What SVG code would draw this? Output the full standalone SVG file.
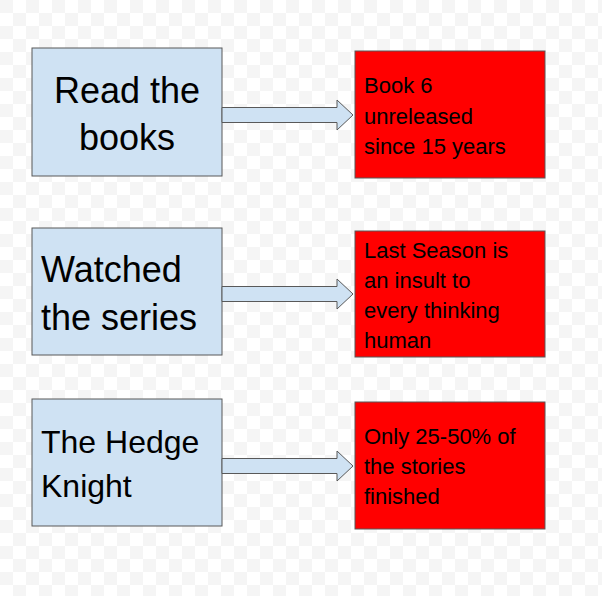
<svg xmlns="http://www.w3.org/2000/svg" width="602" height="596" viewBox="0 0 602 596">
<defs>
<pattern id="chk" width="26" height="26" patternUnits="userSpaceOnUse">
<rect width="26" height="26" fill="#ffffff"/>
<rect width="13" height="13" fill="#f5f5f5"/>
<rect x="13" y="13" width="13" height="13" fill="#f5f5f5"/>
</pattern>
</defs>
<style>
.l{fill:#cfe2f3;stroke:#595959;stroke-width:1}
.r{fill:#ff0000;stroke:#595959;stroke-width:1}
.a{fill:#cfe2f3;stroke:#595959;stroke-width:1}
text{font-family:Arial,"Liberation Sans",sans-serif;fill:#000}
.big{font-size:36px}
.mid{font-size:32px}
.sm{font-size:22px}
</style>
<rect width="602" height="596" fill="url(#chk)"/>
<g id="n1"><rect class="l" x="32" y="48" width="190" height="128"/>
<text class="big" x="127" y="103" text-anchor="middle">Read the</text>
<text class="big" x="127" y="150" text-anchor="middle">books</text></g>
<g id="n2"><rect class="l" x="32" y="228" width="190" height="127"/>
<text class="big" x="41" y="282">Watched</text>
<text class="big" x="41" y="330">the series</text></g>
<g id="n3"><rect class="l" x="32" y="399" width="190" height="127"/>
<text class="mid" x="41" y="453">The Hedge</text>
<text class="mid" x="41" y="497">Knight</text></g>
<g id="n4"><rect class="r" x="355" y="51" width="190" height="127"/>
<text class="sm" x="364" y="93">Book 6</text>
<text class="sm" x="364" y="124">unreleased</text>
<text class="sm" x="364" y="154">since 15 years</text></g>
<g id="n5"><rect class="r" x="355" y="231" width="190" height="126"/>
<text class="sm" x="364" y="258">Last Season is</text>
<text class="sm" x="364" y="288">an insult to</text>
<text class="sm" x="364" y="318">every thinking</text>
<text class="sm" x="364" y="348">human</text></g>
<g id="n6"><rect class="r" x="355" y="402" width="190" height="127"/>
<text class="sm" x="364" y="444">Only 25-50% of</text>
<text class="sm" x="364" y="474">the stories</text>
<text class="sm" x="364" y="504">finished</text></g>
<g id="connectors">
<path class="a" d="M222,107.5 H337 V100 L353,115 L337,130 V122.5 H222 Z"/>
<path class="a" d="M222,286.5 H337 V279 L353,294 L337,309 V301.5 H222 Z"/>
<path class="a" d="M222,458.5 H337 V451 L353,466 L337,481 V473.5 H222 Z"/>
</g>
</svg>
